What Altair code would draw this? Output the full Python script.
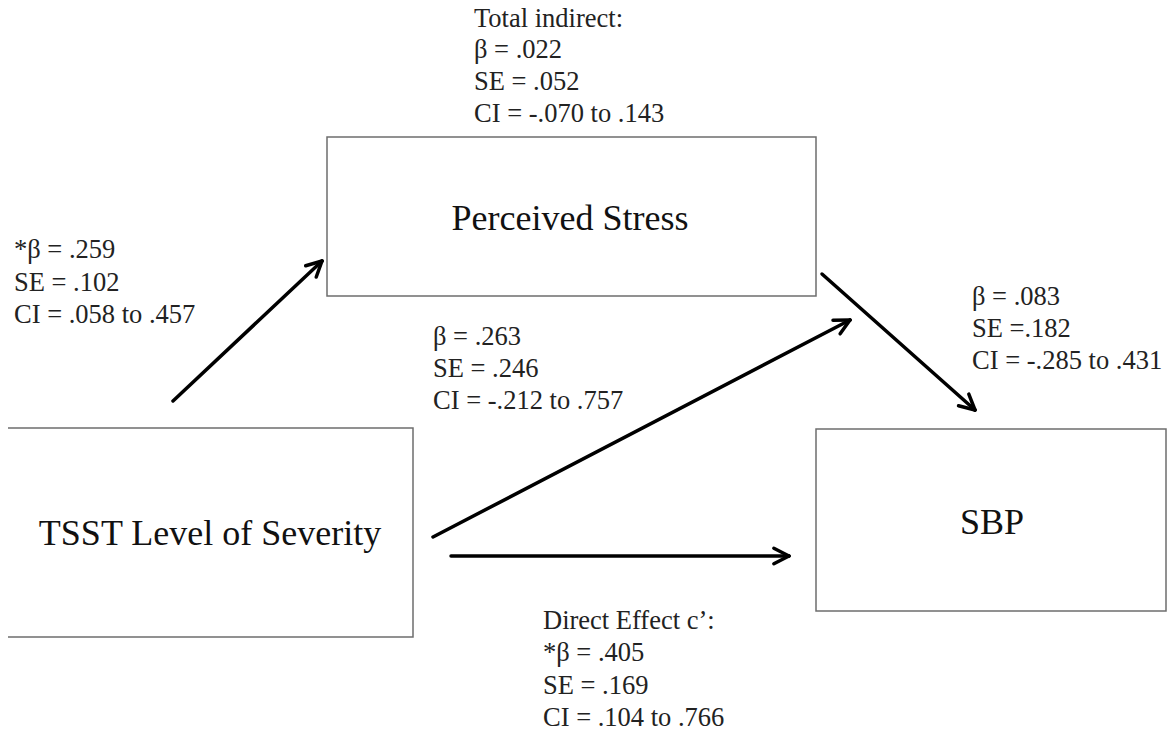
import altair as alt
import numpy as np
import pandas as pd

# ---- diagram content ----
box_labels = ["TSST Level of Severity", "Perceived Stress", "SBP"]
box_x1 = [7, 327, 816]
box_x2 = [413, 816, 1166]
box_y1 = [428, 137, 429]
box_y2 = [637, 296, 611]
label_x = [210, 570, 992]
label_y = [545, 230, 534]

arrow_names = ["a", "b", "c_indirect", "c_direct"]
arrow_x1 = [173, 822, 433, 451]
arrow_y1 = [401, 274, 537, 556]
arrow_x2 = [322, 975, 850, 789]
arrow_y2 = [261, 410, 320, 556]

ann_text = [
    ["Total indirect:", "β = .022", "SE = .052", "CI = -.070 to .143"],
    ["*β = .259", "SE = .102", "CI = .058 to .457"],
    ["β = .263", "SE = .246", "CI = -.212 to .757"],
    ["β = .083", "SE =.182", "CI = -.285 to .431"],
    ["Direct Effect c’:", "*β = .405", "SE = .169", "CI = .104 to .766"],
]
ann_x = [474, 14, 433, 972, 543]
ann_y = [
    [27, 58, 90, 122],
    [258, 291, 323],
    [345, 377, 409],
    [305, 337, 369],
    [629, 661, 694, 726],
]

FONT = "Liberation Serif"
W, H = 1159, 720
xs = alt.Scale(domain=[8, 8 + W], nice=False, zero=False)
ys = alt.Scale(domain=[8, 8 + H], nice=False, zero=False, reverse=True)

boxes = pd.DataFrame({"label": box_labels, "x1": box_x1, "x2": box_x2,
                      "y1": box_y1, "y2": box_y2, "lx": label_x, "ly": label_y})

shafts = pd.DataFrame({"name": arrow_names, "x1": arrow_x1, "y1": arrow_y1,
                       "x2": arrow_x2, "y2": arrow_y2})

# arrowhead arms derived from shaft directions
head_len, head_ang = 17.0, np.deg2rad(27)
arm_rows = []
for n, x1, y1, x2, y2 in zip(arrow_names, arrow_x1, arrow_y1, arrow_x2, arrow_y2):
    ang = np.arctan2(y1 - y2, x1 - x2)
    for s in (-1, 1):
        a = ang + s * head_ang
        arm_rows.append({"name": n, "x1": x2, "y1": y2,
                         "x2": x2 + head_len * np.cos(a), "y2": y2 + head_len * np.sin(a)})
arms = pd.DataFrame(arm_rows)

ann_rows = []
for lines, x, yl in zip(ann_text, ann_x, ann_y):
    for t, y in zip(lines, yl):
        ann_rows.append({"text": t, "x": x, "y": y})
ann = pd.DataFrame(ann_rows)

X = lambda f: alt.X(f, type="quantitative", scale=xs, axis=None)
Y = lambda f: alt.Y(f, type="quantitative", scale=ys, axis=None)

rects = alt.Chart(boxes).mark_rect(fill="white", stroke="#6e6e6e", strokeWidth=1.5).encode(
    x=X("x1"), x2="x2", y=Y("y1"), y2="y2")

box_text = alt.Chart(boxes).mark_text(font=FONT, fontSize=36, align="center",
                                      baseline="alphabetic", color="#111").encode(
    x=X("lx"), y=Y("ly"), text="label:N")

shaft_layer = alt.Chart(shafts).mark_rule(color="black", strokeWidth=3.5, strokeCap="round").encode(
    x=X("x1"), y=Y("y1"), x2="x2", y2="y2")

arm_layer = alt.Chart(arms).mark_rule(color="black", strokeWidth=3.5, strokeCap="round").encode(
    x=X("x1"), y=Y("y1"), x2="x2", y2="y2")

ann_layer = alt.Chart(ann).mark_text(font=FONT, fontSize=26.5, align="left",
                                     baseline="alphabetic", color="#222").encode(
    x=X("x"), y=Y("y"), text="text:N")

chart = alt.layer(rects, box_text, shaft_layer, arm_layer, ann_layer).properties(
    width=W, height=H, autosize=alt.AutoSizeParams(type="none"),
    padding={"top": 0, "left": 0, "right": 0, "bottom": 0},
    background="white"
).configure_view(stroke=None)

chart.save("out.html", embed_options={"renderer": "svg", "actions": False})
